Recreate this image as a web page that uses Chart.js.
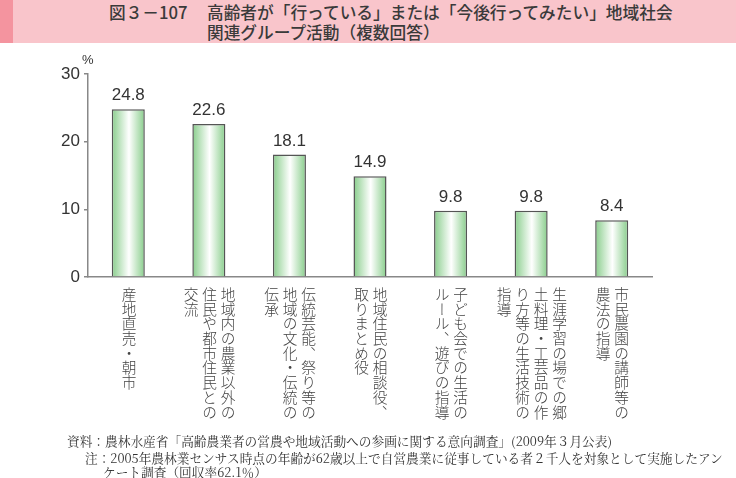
<!DOCTYPE html>
<html lang="ja">
<head>
<meta charset="utf-8">
<script src="https://cdn.jsdelivr.net/npm/chart.js@4/dist/chart.umd.min.js"></script>
<style>
  body { margin: 0; background: #fff; font-family: "Noto Sans CJK JP", sans-serif; color: #333; }
  #wrap { position: relative; width: 736px; height: 478px; overflow: hidden; }
  #band { position: absolute; left: 0; top: 0; width: 736px; height: 43px; background: #f9c5cb; }
  #band .strip { position: absolute; left: 0; top: 0; width: 13px; height: 43px; background: #f4949f; }
  .title { position: absolute; font-size: 16.7px; font-weight: 500; white-space: nowrap; line-height: 20px; color: #3a3a3a; }
  canvas { position: absolute; left: 0; top: 0; }
  .xlab { position: absolute; top: 287px; writing-mode: vertical-rl; font-size: 14.7px; line-height: 18.5px;
          white-space: nowrap; transform: translateX(-50%); color: #444; font-weight: 300; }
  .note { position: absolute; font-size: 12.7px; white-space: nowrap; line-height: 15px;
          font-family: "Noto Serif CJK JP", "Noto Sans CJK JP", serif; color: #333; }
</style>
</head>
<body>
<div id="wrap">
  <div id="band"><div class="strip"></div></div>
  <div class="title" style="left:109px; top:2px;">図３－107</div>
  <div class="title" style="left:207px; top:2px;">高齢者が「行っている」または「今後行ってみたい」地域社会<br>関連グループ活動（複数回答）</div>
  <canvas id="chart" width="736" height="478"></canvas>
  <div class="note" style="left:82px; top:52px; font-family:'Liberation Sans', sans-serif; font-size:13px;">%</div>
  <div class="note" style="left:67px; top:433px;">資料：農林水産省「高齢農業者の営農や地域活動への参画に関する意向調査」(2009年３月公表)</div>
  <div class="note" style="left:85px; top:450px;">注：2005年農林業センサス時点の年齢が62歳以上で自営農業に従事している者２千人を対象として実施したアン</div>
  <div class="note" style="left:103px; top:464px;">ケート調査（回収率62.1％）</div>
</div>
<script>
// 項目（縦書きの列、右から左）
const categories = [
  ["産地直売・朝市"],
  ["地域内の農業以外の", "住民や都市住民との", "交流"],
  ["伝統芸能、祭り等の", "地域の文化・伝統の", "伝承"],
  ["地域住民の相談役、", "取りまとめ役"],
  ["子ども会での生活の", "ルール、遊びの指導"],
  ["生涯学習の場での郷", "土料理・工芸品の作", "り方等の生活技術の", "指導"],
  ["市民農園の講師等の", "農法の指導"]
];
const values = [24.8, 22.6, 18.1, 14.9, 9.8, 9.8, 8.4];
const yTicks = [0, 10, 20, 30];

const catPct = 0.41;

function barFill(ctx) {
  const chart = ctx.chart;
  const xs = chart.scales.x;
  if (!xs || !chart.chartArea) return '#9fd69f';
  const cx = xs.getPixelForValue(ctx.dataIndex);
  const half = (xs.width / categories.length) * catPct / 2;
  const g = chart.ctx.createLinearGradient(cx - half, 0, cx + half, 0);
  g.addColorStop(0, '#88cd8b');
  g.addColorStop(0.52, '#ffffff');
  g.addColorStop(1, '#88cd8b');
  return g;
}

const valueLabels = {
  id: 'valueLabels',
  afterDatasetsDraw(chart) {
    const c = chart.ctx;
    c.save();
    c.font = '17px "Liberation Sans", Arial, sans-serif';
    c.fillStyle = '#333';
    c.textAlign = 'center';
    c.textBaseline = 'bottom';
    chart.getDatasetMeta(0).data.forEach((bar, i) => {
      c.fillText(values[i].toFixed(1), bar.x, bar.y - 5);
    });
    c.restore();
  }
};

const chart = new Chart(document.getElementById('chart'), {
  type: 'bar',
  data: {
    labels: categories.map(c => c.join('')),
    datasets: [{
      data: values,
      backgroundColor: barFill,
      borderColor: '#555',
      borderWidth: 1.5,
      barPercentage: 1,
      categoryPercentage: catPct
    }]
  },
  options: {
    responsive: false,
    animation: false,
    layout: { padding: { left: 0, top: 74, right: 84, bottom: 0 } },
    plugins: { legend: { display: false }, tooltip: { enabled: false } },
    scales: {
      x: {
        grid: { display: false },
        border: { color: '#888', width: 1.5 },
        ticks: { display: false },
        afterFit(scale) { scale.height = 201; }
      },
      y: {
        min: 0,
        max: 30,
        afterBuildTicks(scale) { scale.ticks = yTicks.map(v => ({ value: v })); },
        grid: { drawOnChartArea: false, drawTicks: true, tickLength: 4, color: '#888', lineWidth: 1.5 },
        border: { color: '#888', width: 1.5 },
        ticks: {
          padding: 4,
          color: '#333',
          font: { size: 17, family: '"Liberation Sans", Arial, sans-serif' }
        },
        afterFit(scale) { scale.width = 88; }
      }
    }
  },
  plugins: [valueLabels]
});

// 縦書きの項目ラベルを軸の位置に合わせて配置
const wrap = document.getElementById('wrap');
categories.forEach((cols, i) => {
  const d = document.createElement('div');
  d.className = 'xlab';
  d.innerHTML = cols.join('<br>');
  d.style.left = chart.scales.x.getPixelForValue(i) + 'px';
  wrap.appendChild(d);
});
</script>
</body>
</html>
